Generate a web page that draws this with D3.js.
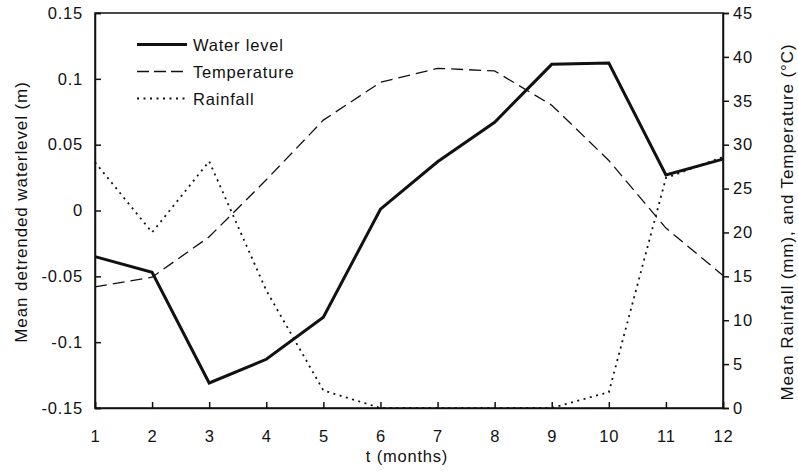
<!DOCTYPE html>
<html><head><meta charset="utf-8">
<script src="https://cdn.jsdelivr.net/npm/d3@7"></script>
<style>body{margin:0;background:#fff}svg{display:block}text{font-family:"Liberation Sans",Arial,sans-serif;fill:#111}</style>
</head><body><svg id="c" width="798" height="475"></svg>
<script>
const months = [1,2,3,4,5,6,7,8,9,10,11,12];
const waterLevel = [-0.035,-0.047,-0.131,-0.113,-0.081,0.001,0.037,0.067,0.111,0.112,0.027,0.039];
const temperature = [13.8,14.9,19.5,26.0,32.8,37.1,38.7,38.4,34.5,28.2,20.5,15.1];
const rainfall = [28.0,20.0,28.1,13.4,2.0,0,0,0,0,1.8,26.2,28.6];
const leftTicks = [-0.15,-0.1,-0.05,0,0.05,0.1,0.15];
const rightTicks = [0,5,10,15,20,25,30,35,40,45];

const svg = d3.select("#c");
const L=95,R=723,T=13,B=408;
const FS=16.5, LS="0.8px";
const x = d3.scaleLinear().domain([1,12]).range([L,R]);
const yL = d3.scaleLinear().domain([-0.15,0.15]).range([B,T]);
const yR = d3.scaleLinear().domain([0,45]).range([B,T]);

// frame
svg.append("rect").attr("x",L).attr("y",T).attr("width",R-L).attr("height",B-T)
  .attr("fill","none").attr("stroke","#111").attr("stroke-width",1.5);

const fmtL = d => d===0?"0":String(+d.toFixed(2));
const axL = svg.append("g").attr("transform",`translate(${L},0)`)
  .call(d3.axisLeft(yL).tickValues(leftTicks).tickSize(-6).tickPadding(12).tickFormat(fmtL));
const axR = svg.append("g").attr("transform",`translate(${R},0)`)
  .call(d3.axisRight(yR).tickValues(rightTicks).tickSize(6).tickPadding(4));
const axB = svg.append("g").attr("transform",`translate(0,${B})`)
  .call(d3.axisBottom(x).tickValues(months).tickSize(-6).tickPadding(22).tickFormat(d3.format("d")));
[axL,axR,axB].forEach(a=>{
  a.select(".domain").attr("stroke","#111").attr("stroke-width",1.5);
  a.selectAll(".tick line").attr("stroke","#111").attr("stroke-width",1.5);
  a.selectAll(".tick text").attr("font-size",FS).attr("letter-spacing",LS)
    .attr("font-family","'Liberation Sans',Arial,sans-serif").attr("fill","#111");
});

// titles
svg.append("text").attr("transform",`translate(27,212) rotate(-90)`)
  .attr("text-anchor","middle").attr("font-size",17).attr("letter-spacing","0.9px")
  .text("Mean detrended waterlevel (m)");
svg.append("text").attr("transform",`translate(793,222) rotate(-90)`)
  .attr("text-anchor","middle").attr("font-size",17).attr("letter-spacing","0.9px")
  .text("Mean Rainfall (mm), and Temperature (°C)");
svg.append("text").attr("x",(L+R)/2-2).attr("y",462).attr("text-anchor","middle")
  .attr("font-size",FS).attr("letter-spacing",LS).text("t (months)");

const g = svg.append("g");
const lineL = d3.line().x((d,i)=>x(months[i])).y(d=>yL(d));
const lineR = d3.line().x((d,i)=>x(months[i])).y(d=>yR(d));
g.append("path").datum(rainfall).attr("d",lineR).attr("fill","none")
  .attr("stroke","#111").attr("stroke-width",1.8).attr("stroke-dasharray","2,4.5");
g.append("path").datum(temperature).attr("d",lineR).attr("fill","none")
  .attr("stroke","#111").attr("stroke-width",1.3).attr("stroke-dasharray","12,6");
g.append("path").datum(waterLevel).attr("d",lineL).attr("fill","none")
  .attr("stroke","#111").attr("stroke-width",3);

// legend
const legend = [
  {name:"Water level", w:3, dash:null},
  {name:"Temperature", w:1.3, dash:"12,5"},
  {name:"Rainfall", w:1.8, dash:"2,4.5"}
];
legend.forEach((d,i)=>{
  const yy = 44.5 + i*27;
  svg.append("line").attr("x1",137).attr("x2",187).attr("y1",yy).attr("y2",yy)
    .attr("stroke","#111").attr("stroke-width",d.w).attr("stroke-dasharray",d.dash);
  svg.append("text").attr("x",193).attr("y",yy+6).attr("font-size",FS)
    .attr("letter-spacing",LS).text(d.name);
});
</script></body></html>
